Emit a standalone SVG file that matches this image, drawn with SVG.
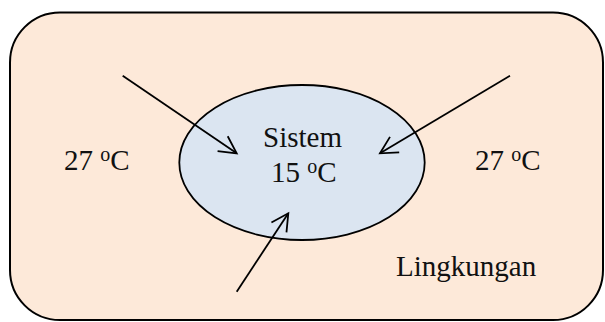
<svg xmlns="http://www.w3.org/2000/svg" width="605" height="322" viewBox="0 0 605 322">
  <style>
    .lbl { font-family: "Liberation Serif", "Times New Roman", serif; font-size: 29px; fill: #111; }
    .sup { font-size: 20px; }
    .flow { stroke: #000; stroke-width: 1.8; fill: none; marker-end: url(#open-arrow); }
  </style>
  <defs>
    <marker id="open-arrow" markerUnits="userSpaceOnUse" markerWidth="24" markerHeight="24" viewBox="-20 -12 24 24" refX="0" refY="0" orient="auto">
      <path d="M-17,-9 L0,0 L-17,9" fill="none" stroke="#000" stroke-width="1.8"/>
    </marker>
  </defs>

  <!-- surroundings -->
  <g id="lingkungan">
    <rect x="10" y="12.5" width="593" height="307.5" rx="50" ry="50" fill="#FDE9D9" stroke="#000" stroke-width="2"/>
    <text class="lbl" x="64" y="170">27 <tspan class="sup" dy="-9">o</tspan><tspan dy="9">C</tspan></text>
    <text class="lbl" x="475" y="170">27 <tspan class="sup" dy="-9">o</tspan><tspan dy="9">C</tspan></text>
    <text class="lbl" x="396" y="276">Lingkungan</text>
  </g>

  <!-- system -->
  <g id="sistem">
    <ellipse cx="302" cy="162.5" rx="122.7" ry="77.5" fill="#DBE5F1" stroke="#000" stroke-width="1.8"/>
    <text class="lbl" x="302.5" y="147" text-anchor="middle">Sistem</text>
    <text class="lbl" x="271" y="182">15 <tspan class="sup" dy="-9">o</tspan><tspan dy="9">C</tspan></text>
  </g>

  <!-- heat flow into the system -->
  <g id="connectors">
    <line class="flow" x1="122.7" y1="75.7" x2="236.7" y2="153.3"/>
    <line class="flow" x1="510" y1="75.7" x2="380" y2="153.3"/>
    <line class="flow" x1="236.7" y1="291.7" x2="288.3" y2="213.3"/>
  </g>
</svg>
